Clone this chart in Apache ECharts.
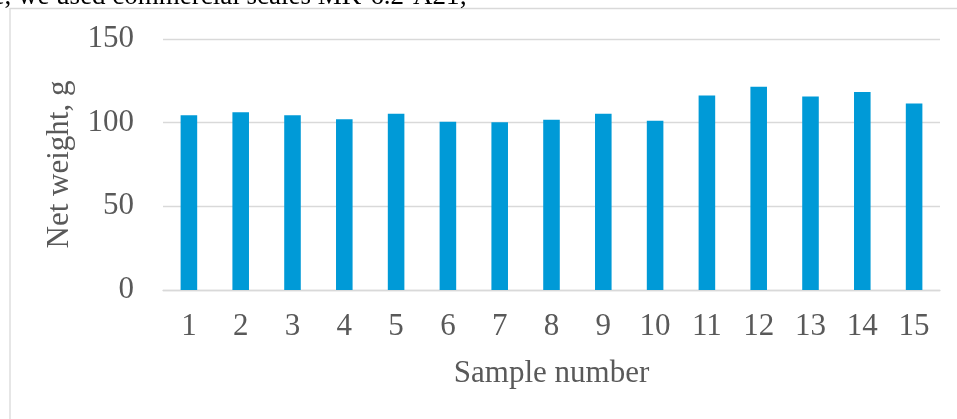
<!DOCTYPE html>
<html>
<head>
<meta charset="utf-8">
<script src="https://cdn.jsdelivr.net/npm/echarts@6/dist/echarts.min.js"></script>
<style>
  html, body { margin: 0; padding: 0; background: #ffffff; }
  #chart { width: 957px; height: 419px; }
</style>
</head>
<body>
<div id="chart"></div>
<script>
// Sample numbers on the x axis
const sampleNumbers = ['1','2','3','4','5','6','7','8','9','10','11','12','13','14','15'];
// Net weight of each sample, g
const netWeights = [104.4, 106.2, 104.4, 102.0, 105.4, 100.6, 100.2, 101.8, 105.4, 101.2, 116.2, 121.4, 115.7, 118.4, 111.4];
// Text and axis titles
const captionTail = 'e, we used commercial scales MK-6.2-A21;';
const yTitle = 'Net weight, g';
const xTitle = 'Sample number';

const serif = '"Liberation Serif", "Times New Roman", serif';
const labelGray = '#595959';
const lineGray = '#d9d9d9';

const chart = echarts.init(document.getElementById('chart'), null, { renderer: 'canvas' });
chart.setOption({
  animation: false,
  backgroundColor: '#ffffff',
  grid: { left: 163, right: 17, top: 39, bottom: 129, containLabel: false },
  xAxis: {
    type: 'category',
    data: sampleNumbers,
    name: xTitle,
    nameLocation: 'middle',
    nameGap: 68,
    nameTextStyle: { fontFamily: serif, fontSize: 31, color: labelGray },
    axisLine: { show: true, lineStyle: { color: lineGray, width: 1.3 } },
    axisTick: { show: false },
    axisLabel: { fontFamily: serif, fontSize: 31, color: labelGray, margin: 21 }
  },
  yAxis: {
    type: 'value',
    min: 0,
    max: 150,
    interval: 50,
    name: yTitle,
    nameLocation: 'middle',
    nameGap: 88,
    nameRotate: 90,
    nameTextStyle: { fontFamily: serif, fontSize: 31, color: labelGray },
    axisLine: { show: false },
    axisTick: { show: false },
    axisLabel: { fontFamily: serif, fontSize: 31, color: labelGray, margin: 29 },
    splitLine: { show: true, lineStyle: { color: lineGray, width: 1.3 } }
  },
  series: [{
    type: 'bar',
    data: netWeights,
    barWidth: '32%',
    itemStyle: { color: '#009ad7' }
  }],
  graphic: [
    {
      type: 'line',
      shape: { x1: 10, y1: 8.5, x2: 957, y2: 8.5 },
      style: { stroke: lineGray, lineWidth: 1.3 },
      silent: true
    },
    {
      type: 'line',
      shape: { x1: 10, y1: 8, x2: 10, y2: 419 },
      style: { stroke: lineGray, lineWidth: 1.3 },
      silent: true
    },
    {
      type: 'text',
      x: 467,
      y: -3,
      style: {
        text: captionTail,
        fontFamily: serif,
        fontSize: 27,
        fill: '#000000',
        align: 'right',
        verticalAlign: 'middle'
      },
      silent: true
    }
  ]
});
</script>
</body>
</html>
